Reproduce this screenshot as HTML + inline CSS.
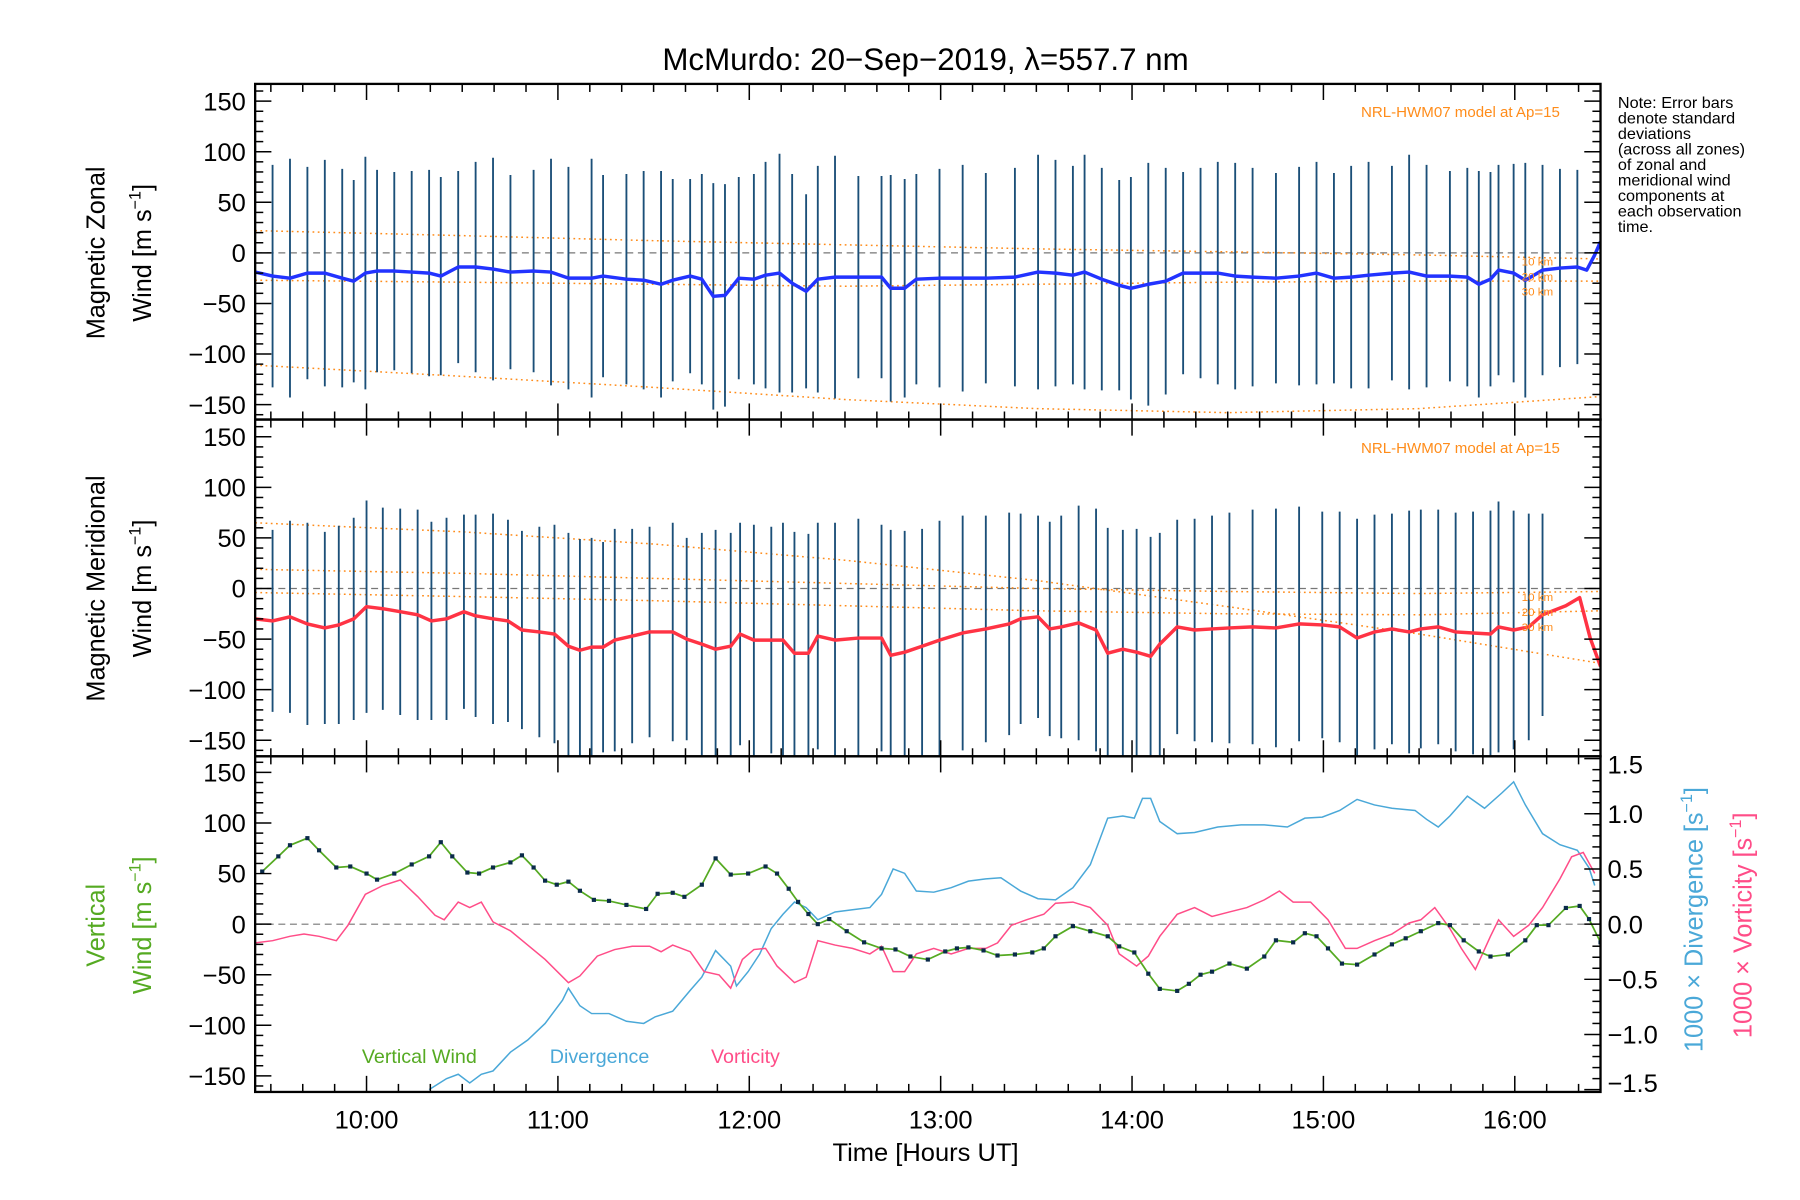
<!DOCTYPE html>
<html><head><meta charset="utf-8"><style>
html,body{margin:0;padding:0;background:#fff;}
svg{display:block;font-family:"Liberation Sans",sans-serif;}
</style></head><body>
<svg id="c" width="1800" height="1200" viewBox="0 0 1552 1044" preserveAspectRatio="none" xmlns="http://www.w3.org/2000/svg">
<rect width="1552" height="1044" fill="#fff"/>
<text x="798" y="61" font-size="27" text-anchor="middle">McMurdo: 20−Sep−2019, λ=557.7 nm</text>
<g id="note" font-size="14" fill="#000">
<text x="1395" y="94">Note: Error bars</text><text x="1395" y="107.5">denote standard</text><text x="1395" y="121">deviations</text><text x="1395" y="134.5">(across all zones)</text><text x="1395" y="148">of zonal and</text><text x="1395" y="161.5">meridional wind</text><text x="1395" y="175">components at</text><text x="1395" y="188.5">each observation</text><text x="1395" y="202">time.</text>
</g>
<g id="plot"></g>
</svg>
<script>
const hourTicks=[10,11,12,13,14,15,16];
const hourLabels=["10:00","11:00","12:00","13:00","14:00","15:00","16:00"];
const windTicks=[-150,-100,-50,0,50,100,150];
const rightTicks=[-1.5,-1.0,-0.5,0.0,0.5,1.0,1.5];
const rightLabels=["−1.5","−1.0","−0.5","0.0","0.5","1.0","1.5"];

const zonalT=[9.418,9.509,9.6,9.691,9.782,9.873,9.933,9.994,10.055,10.145,10.236,10.327,10.388,10.479,10.57,10.661,10.752,10.873,10.964,11.055,11.176,11.236,11.358,11.448,11.539,11.6,11.691,11.752,11.812,11.873,11.945,12.024,12.085,12.158,12.224,12.297,12.358,12.448,12.57,12.691,12.739,12.812,12.873,12.994,13.115,13.236,13.388,13.509,13.6,13.691,13.752,13.842,13.933,13.994,14.085,14.176,14.267,14.358,14.448,14.539,14.63,14.752,14.873,14.964,15.055,15.145,15.236,15.358,15.448,15.539,15.661,15.752,15.812,15.873,15.915,15.994,16.055,16.145,16.236,16.327,16.376,16.418,16.448];
const zonalV=[-19,-23,-25,-20,-20,-25,-28,-20,-18,-18,-19,-20,-23,-14,-14,-16,-19,-18,-19,-25,-25,-23,-26,-27,-31,-27,-23,-26,-43,-42,-25,-26,-22,-20,-30,-38,-26,-24,-24,-24,-35,-35,-26,-25,-25,-25,-24,-19,-20,-22,-19,-26,-32,-35,-31,-28,-20,-20,-20,-23,-24,-25,-23,-20,-25,-24,-22,-20,-19,-23,-23,-24,-31,-26,-17,-20,-27,-17,-15,-14,-17,-2,11];
const zonalSd=[125,110,118,105,112,108,100,115,100,98,100,102,98,95,104,110,96,100,112,110,118,100,104,108,112,100,96,104,112,110,100,104,112,118,108,96,112,120,100,100,112,108,104,108,112,104,108,116,112,108,116,110,104,110,120,112,100,104,110,112,108,104,108,110,104,110,112,106,116,110,104,108,112,106,104,108,116,104,98,96,0,0,0];
const meridT=[9.418,9.509,9.6,9.691,9.782,9.855,9.933,10.0,10.085,10.176,10.267,10.339,10.418,10.509,10.57,10.661,10.739,10.812,10.903,10.982,11.055,11.115,11.176,11.236,11.297,11.388,11.479,11.6,11.673,11.752,11.824,11.903,11.952,12.024,12.115,12.176,12.236,12.309,12.358,12.448,12.57,12.691,12.739,12.812,12.903,12.994,13.115,13.236,13.358,13.418,13.509,13.57,13.63,13.721,13.812,13.873,13.952,14.024,14.097,14.145,14.236,14.327,14.418,14.509,14.63,14.752,14.873,14.994,15.085,15.176,15.267,15.358,15.448,15.509,15.6,15.691,15.782,15.873,15.915,15.994,16.073,16.145,16.267,16.339,16.394,16.448];
const meridV=[-30,-32,-28,-35,-39,-36,-30,-18,-20,-23,-26,-32,-30,-23,-27,-30,-32,-41,-43,-45,-57,-61,-58,-58,-51,-47,-43,-43,-50,-55,-60,-57,-45,-51,-51,-51,-64,-64,-47,-51,-49,-49,-66,-63,-57,-51,-44,-40,-35,-30,-28,-40,-38,-34,-41,-64,-60,-63,-67,-55,-38,-41,-40,-39,-38,-39,-35,-36,-38,-49,-43,-40,-43,-40,-38,-43,-44,-45,-38,-41,-38,-26,-17,-9,-49,-77];
const meridSd=[80,90,95,100,95,98,100,105,100,102,104,98,100,96,100,104,100,98,104,108,112,110,108,104,110,106,104,108,100,110,118,112,110,114,112,116,120,118,112,116,118,112,124,120,116,118,116,112,110,104,100,106,110,116,120,124,118,122,118,110,106,110,112,114,116,118,116,112,114,118,116,114,120,118,116,118,120,122,124,118,112,100,0,0,0,0];

const modelT=[9.418,10.5,11.5,12.5,13.5,14.5,15.5,16.448];
const zonModel10=[22,17,12,8,4,1,-2,-6];
const zonModel20=[-27,-29,-31,-33,-31,-29,-28,-28];
const zonModel30=[-111,-122,-133,-145,-154,-158,-154,-142];
const merModel10=[65,56,44,28,8,-18,-45,-74];
const merModel20=[19,15,10,5,0,-3,-5,-3];
const merModel30=[-4,-8,-12,-17,-22,-25,-26,-22];

const vertT=[9.455,9.539,9.6,9.691,9.752,9.842,9.915,10.0,10.055,10.145,10.236,10.327,10.388,10.448,10.527,10.588,10.661,10.752,10.812,10.873,10.933,10.994,11.055,11.115,11.188,11.267,11.358,11.461,11.521,11.6,11.661,11.752,11.824,11.903,11.994,12.085,12.145,12.206,12.255,12.309,12.358,12.418,12.509,12.6,12.691,12.764,12.842,12.933,13.024,13.085,13.145,13.224,13.297,13.388,13.479,13.539,13.6,13.691,13.782,13.873,13.933,14.012,14.085,14.145,14.236,14.297,14.358,14.418,14.509,14.6,14.691,14.752,14.842,14.903,14.964,15.024,15.097,15.176,15.267,15.358,15.43,15.509,15.6,15.661,15.733,15.812,15.873,15.964,16.055,16.115,16.176,16.267,16.339,16.388,16.448];
const vertV=[52,67,78,85,73,56,57,50,44,50,59,67,81,67,51,50,56,61,68,56,43,39,42,33,24,23,19,15,30,31,27,39,65,49,50,57,50,35,22,10,0,5,-7,-18,-24,-25,-32,-35,-27,-24,-23,-26,-31,-30,-28,-24,-12,-2,-7,-12,-22,-28,-49,-64,-66,-59,-50,-47,-39,-44,-32,-16,-18,-9,-12,-24,-39,-40,-30,-20,-14,-7,1,-1,-16,-27,-32,-30,-16,-1,-1,16,18,5,-18];
const divT=[10.327,10.418,10.479,10.539,10.6,10.661,10.752,10.842,10.933,11.024,11.055,11.115,11.176,11.267,11.358,11.448,11.509,11.6,11.691,11.752,11.824,11.903,11.933,11.994,12.055,12.115,12.176,12.236,12.297,12.358,12.448,12.539,12.63,12.691,12.752,12.812,12.873,12.964,13.055,13.145,13.236,13.315,13.418,13.509,13.6,13.691,13.782,13.873,13.952,14.012,14.055,14.097,14.145,14.236,14.327,14.448,14.57,14.691,14.812,14.903,14.994,15.085,15.176,15.267,15.358,15.479,15.539,15.6,15.661,15.752,15.842,15.933,15.994,16.055,16.145,16.236,16.327,16.388,16.418];
const divV=[-1.5,-1.4,-1.36,-1.44,-1.36,-1.33,-1.16,-1.05,-0.9,-0.69,-0.58,-0.74,-0.81,-0.81,-0.88,-0.9,-0.84,-0.79,-0.6,-0.48,-0.24,-0.38,-0.56,-0.43,-0.27,-0.04,0.09,0.2,0.15,0.04,0.11,0.13,0.15,0.27,0.5,0.46,0.3,0.29,0.33,0.39,0.41,0.42,0.3,0.23,0.22,0.33,0.54,0.96,0.98,0.96,1.14,1.14,0.93,0.82,0.83,0.88,0.9,0.9,0.88,0.96,0.97,1.03,1.13,1.08,1.05,1.03,0.95,0.88,0.98,1.16,1.05,1.19,1.29,1.08,0.82,0.72,0.67,0.51,0.35];
const vorT=[9.418,9.509,9.6,9.673,9.752,9.842,9.903,9.994,10.085,10.176,10.267,10.358,10.406,10.479,10.539,10.6,10.661,10.752,10.842,10.933,11.055,11.115,11.206,11.297,11.388,11.479,11.539,11.6,11.691,11.764,11.842,11.903,11.964,12.024,12.085,12.145,12.236,12.297,12.358,12.448,12.539,12.63,12.691,12.752,12.812,12.873,12.964,13.055,13.145,13.236,13.297,13.37,13.448,13.539,13.6,13.691,13.782,13.873,13.933,14.024,14.085,14.145,14.236,14.327,14.418,14.509,14.6,14.691,14.77,14.842,14.933,15.024,15.115,15.176,15.267,15.358,15.448,15.509,15.582,15.661,15.721,15.794,15.873,15.915,15.994,16.073,16.145,16.236,16.297,16.358,16.418];
const vorV=[-0.17,-0.15,-0.11,-0.09,-0.11,-0.15,-0.01,0.27,0.35,0.4,0.25,0.08,0.04,0.2,0.15,0.2,0.02,-0.06,-0.19,-0.32,-0.53,-0.47,-0.29,-0.23,-0.2,-0.2,-0.25,-0.19,-0.25,-0.43,-0.46,-0.58,-0.32,-0.23,-0.22,-0.38,-0.53,-0.48,-0.15,-0.19,-0.22,-0.27,-0.2,-0.43,-0.43,-0.27,-0.22,-0.27,-0.22,-0.22,-0.17,-0.01,0.04,0.09,0.19,0.2,0.15,-0.01,-0.27,-0.38,-0.29,-0.11,0.09,0.15,0.07,0.11,0.15,0.22,0.3,0.2,0.2,0.04,-0.22,-0.22,-0.15,-0.09,0.01,0.04,0.15,-0.04,-0.22,-0.41,-0.11,0.04,-0.11,-0.01,0.15,0.41,0.61,0.65,0.46];

const NS="http://www.w3.org/2000/svg";
const plot=document.getElementById('plot');
const L=220,R=1380,H0=9.418,H1=16.448;
const X=h=>L+(h-H0)/(H1-H0)*(R-L);
const panels=[{top:73,bot:365,zero:220},{top:365,bot:658,zero:512},{top:658,bot:950,zero:804}];
const Yw=(p,v)=>panels[p].zero-v*0.88;
const Yr=v=>804-v*96;
function mk(tag,attrs,parent){const e=document.createElementNS(NS,tag);for(const k in attrs)e.setAttribute(k,attrs[k]);(parent||plot).appendChild(e);return e;}
function clipFor(p){const cp=mk('clipPath',{id:'clip'+p});mk('rect',{x:L,y:panels[p].top,width:R-L,height:panels[p].bot-panels[p].top},cp);return 'url(#clip'+p+')';}
function poly(ts,vs,yf,attrs,g){const pts=ts.map((t,i)=>X(t).toFixed(1)+','+yf(vs[i]).toFixed(1)).join(' ');return mk('polyline',Object.assign({points:pts,fill:'none'},attrs),g);}

// panels 1,2
const series=[[zonalT,zonalV,zonalSd,'#2233ff',[zonModel10,zonModel20,zonModel30],'zonal'],[meridT,meridV,meridSd,'#ff3344',[merModel10,merModel20,merModel30],'meridional']];
series.forEach((s,p)=>{
  const g=mk('g',{'clip-path':clipFor(p)});
  
  
  const z=mk('line',{x1:L,x2:R,y1:Yw(p,0),y2:Yw(p,0),stroke:'#777','stroke-dasharray':'6,4','stroke-width':1},g);
  
  
  s[4].forEach((m,k)=>{const pl=poly(modelT,m,v=>Yw(p,v),{stroke:'#ff8c1a','stroke-width':1.3,'stroke-dasharray':'1.5,3'},g);
    
    });
  s[0].forEach((t,i)=>{if(!s[2][i])return;const b=mk('line',{x1:X(t),x2:X(t),y1:Yw(p,s[1][i]+s[2][i]),y2:Yw(p,s[1][i]-s[2][i]),stroke:'#1b4f78','stroke-width':1.6},g);
    
    });
  const ml=poly(s[0],s[1],v=>Yw(p,v),{stroke:s[3],'stroke-width':3,'stroke-linejoin':'round'},g);
  
  
  const lt=mk('text',{x:1345,y:panels[p].top+29,'font-size':13,fill:'#ff8c1a','text-anchor':'end'});
  lt.textContent='NRL-HWM07 model at Ap=15';
  
  
  ['10 km','20 km','30 km'].forEach((k,j)=>{const kt=mk('text',{x:1312,y:panels[p].zero+11+j*13,'font-size':10,fill:'#ff8c1a'});kt.textContent=k;
    
    });
});

// panel 3
{
  const g=mk('g',{'clip-path':clipFor(2)});
  
  
  const z=mk('line',{x1:L,x2:R,y1:Yw(2,0),y2:Yw(2,0),stroke:'#777','stroke-dasharray':'6,4','stroke-width':1},g);
  
  
  const d=poly(divT,divV,Yr,{stroke:'#4aa8d8','stroke-width':1.3},g);
  
  
  const vo=poly(vorT,vorV,Yr,{stroke:'#ff4d88','stroke-width':1.3},g);
  
  
  const vw=poly(vertT,vertV,v=>Yw(2,v),{stroke:'#55aa22','stroke-width':1.5},g);
  
  
  vertT.forEach((t,i)=>{const c=mk('rect',{x:X(t)-1.8,y:Yw(2,vertV[i])-1.8,width:3.6,height:3.6,fill:'#0a2a4a'},g);
    
    });
  [['Vertical Wind',312,'#55aa22'],['Divergence',474,'#4aa8d8'],['Vorticity',613,'#ff4d88']].forEach(l=>{
    const t=mk('text',{x:l[1],y:925,'font-size':17,fill:l[2]});t.textContent=l[0];
    
    });
}

// frames and ticks
panels.forEach((pn,p)=>{
  const f=mk('rect',{x:L,y:pn.top,width:R-L,height:pn.bot-pn.top,fill:'none',stroke:'#000','stroke-width':2});
  
  
  for(let v=-160;v<=160;v+=10){const y=Yw(p,v);if(y<pn.top+1||y>pn.bot-1)continue;const len=(v%50===0)?14:7;
    mk('line',{x1:L,x2:L+len,y1:y,y2:y,stroke:'#000','stroke-width':1.3});
    if(p<2)mk('line',{x1:R,x2:R-len,y1:y,y2:y,stroke:'#000','stroke-width':1.3});}
  windTicks.forEach(v=>{const t=mk('text',{x:212,y:Yw(p,v)+8,'font-size':22,'text-anchor':'end'});t.textContent=v<0?'−'+(-v):String(v);
    
    });
  for(let m=0;m<=420;m+=10){const h=9.5+m/60;if(h<H0||h>H1)continue;const x=X(h);const len=(m%60===30)?14:7;
    mk('line',{x1:x,x2:x,y1:pn.bot,y2:pn.bot-len,stroke:'#000','stroke-width':1.3});
    mk('line',{x1:x,x2:x,y1:pn.top,y2:pn.top+len,stroke:'#000','stroke-width':1.3});}
});
for(let v=-1.5;v<=1.501;v+=0.1){const y=Yr(v);if(y<659||y>949)continue;const len=(Math.abs(Math.round(v*10))%5===0)?14:7;mk('line',{x1:R,x2:R-len,y1:y,y2:y,stroke:'#000','stroke-width':1.3});}
rightTicks.forEach((v,i)=>{const t=mk('text',{x:1386,y:Math.min(Math.max(Yr(v)+8,673),950),'font-size':22});t.textContent=rightLabels[i];
  
  });
hourTicks.forEach((h,i)=>{const t=mk('text',{x:X(h),y:982,'font-size':22,'text-anchor':'middle'});t.textContent=hourLabels[i];
  
  });
const xt=mk('text',{x:798,y:1010,'font-size':22,'text-anchor':'middle'});xt.textContent='Time [Hours UT]';



function vlabel(x,y,txt,col,name){const t=mk('text',{x:0,y:0,'font-size':22,fill:col,'text-anchor':'middle',transform:`translate(${x},${y}) rotate(-90)`});t.innerHTML=txt;
  
  }
vlabel(90,220,'Magnetic Zonal','#000','zonal-y-title');
vlabel(130,220,'Wind [m s<tspan font-size="14" dy="-9">−1</tspan><tspan dy="9">]</tspan>','#000','zonal-y-units');
vlabel(90,512,'Magnetic Meridional','#000','meridional-y-title');
vlabel(130,512,'Wind [m s<tspan font-size="14" dy="-9">−1</tspan><tspan dy="9">]</tspan>','#000','meridional-y-units');
vlabel(90,805,'Vertical','#55aa22','vertical-y-title');
vlabel(130,805,'Wind [m s<tspan font-size="14" dy="-9">−1</tspan><tspan dy="9">]</tspan>','#55aa22','vertical-y-units');
vlabel(1468,800,'1000 × Divergence [s<tspan font-size="14" dy="-9">−1</tspan><tspan dy="9">]</tspan>','#4aa8d8','divergence-axis-title');
vlabel(1510,805,'1000 × Vorticity [s<tspan font-size="14" dy="-9">−1</tspan><tspan dy="9">]</tspan>','#ff4d88','vorticity-axis-title');
</script>
</body></html>
